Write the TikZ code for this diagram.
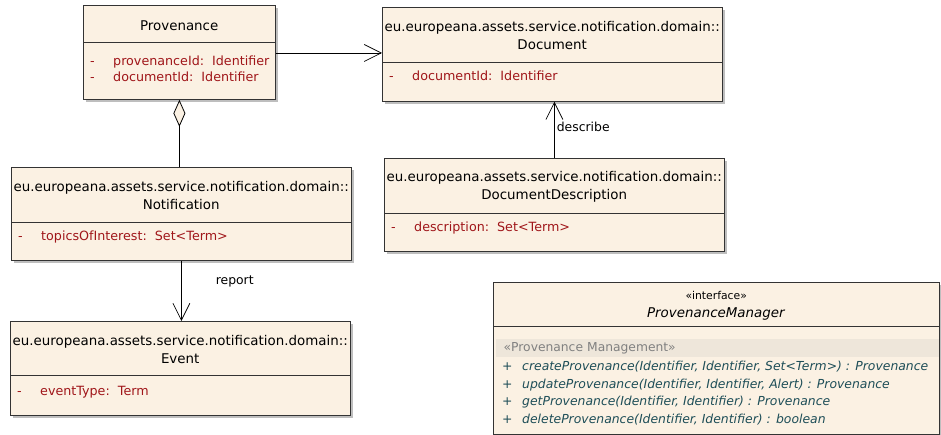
\documentclass[tikz,border=0pt]{standalone}
\usepackage{fontspec}
\setmainfont{DejaVu Sans}
\usepackage{tikz}
\usetikzlibrary{calc, shadows, arrows.meta}
\definecolor{umlfill}{HTML}{FBF1E3}
\definecolor{umlshadow}{HTML}{BEBEBE}
\definecolor{attrred}{HTML}{A0161A}
\definecolor{opteal}{HTML}{1E4E58}
\definecolor{bandfill}{HTML}{EEE6DA}
\newcommand{\attrline}[1]{\makebox[23pt][l]{-}#1}
\newcommand{\opline}[1]{\makebox[20pt][l]{\upshape +}#1}

\begin{document}
\begin{tikzpicture}[
          x=1pt, y=-1pt,
          cls/.style={draw=black!80, fill=umlfill, line width=0.8pt,
                      inner sep=0pt, anchor=north west,
                      drop shadow={shadow xshift=3pt, shadow yshift=-3pt,
                                   fill=umlshadow, opacity=1}},
          hdr/.style={inner sep=0pt, anchor=north west, align=center,
                      font=\fontsize{13.4}{18}\selectfont},
          div/.style={draw=black!80, line width=0.8pt},
          attr/.style={anchor=north west, inner sep=0pt, align=left,
                       text=attrred, font=\fontsize{12.7}{16}\selectfont},
          op/.style={anchor=north west, inner sep=0pt, align=left,
                     text=opteal, font=\fontsize{12.4}{17.5}\selectfont\itshape},
          assoc/.style={-{Straight Barb[length=17pt, width=17pt, line width=0.7pt]},
                        line width=0.8pt},
          aggr/.style={{Diamond[open, length=27pt, width=12pt, fill=umlfill]}-,
                       line width=0.8pt},
          lbl/.style={font=\fontsize{12.4}{14}\selectfont, inner sep=2pt}
        ]
          \useasboundingbox (0,0) rectangle (941,435);

          \node[cls, minimum width=192pt, minimum height=94pt] (prov) at (83,5) {};
          \node[hdr, minimum width=192pt, minimum height=37pt] (provH) at ([yshift=-2pt]prov.north west) {Provenance};
          \draw[div] (prov.north west |- 0,42) -- (prov.north east |- 0,42);
          \node[attr] (provA) at ([shift={(7,51)}]prov.north west)
            {\attrline{provenanceId:\ \ Identifier}\\ \attrline{documentId:\ \ Identifier}};

          \node[cls, minimum width=340pt, minimum height=94pt] (doc) at (382,7) {};
          \node[hdr, minimum width=340pt, minimum height=55pt] (docH) at ([yshift=-1pt]doc.north west)
            {eu.europeana.assets.service.notification.domain::\\Document};
          \draw[div] (doc.north west |- 0,62) -- (doc.north east |- 0,62);
          \node[attr] (docA) at ([shift={(7,64)}]doc.north west)
            {\attrline{documentId:\ \ Identifier}};

          \node[cls, minimum width=340pt, minimum height=93pt] (dd) at (384,158) {};
          \node[hdr, minimum width=340pt, minimum height=55pt] (ddH) at ([yshift=-1pt]dd.north west)
            {eu.europeana.assets.service.notification.domain::\\DocumentDescription};
          \draw[div] (dd.north west |- 0,213) -- (dd.north east |- 0,213);
          \node[attr] (ddA) at ([shift={(7,64)}]dd.north west)
            {\attrline{description:\ \ Set<Term>}};

          \node[cls, minimum width=340pt, minimum height=93pt] (notif) at (11,167) {};
          \node[hdr, minimum width=340pt, minimum height=55pt] (notifH) at ([yshift=-1pt]notif.north west)
            {eu.europeana.assets.service.notification.domain::\\Notification};
          \draw[div] (notif.north west |- 0,222) -- (notif.north east |- 0,222);
          \node[attr] (notifA) at ([shift={(7,64)}]notif.north west)
            {\attrline{topicsOfInterest:\ \ Set<Term>}};

          \node[cls, minimum width=340pt, minimum height=94pt] (ev) at (10,321) {};
          \node[hdr, minimum width=340pt, minimum height=54pt] (evH) at ([yshift=-1pt]ev.north west)
            {eu.europeana.assets.service.notification.domain::\\Event};
          \draw[div] (ev.north west |- 0,375) -- (ev.north east |- 0,375);
          \node[attr] (evA) at ([shift={(7,65)}]ev.north west)
            {\attrline{eventType:\ \ Term}};

          \node[cls, minimum width=446pt, minimum height=152pt] (pm) at (493,282) {};
          \node[hdr, minimum width=446pt, minimum height=44pt] (pmH) at ([yshift=-2pt]pm.north west)
            {{\fontsize{10.8}{18}\selectfont «interface»}\\\textit{ProvenanceManager}};
          \draw[div] (pm.north west |- 0,326) -- (pm.north east |- 0,326);
          \node[anchor=north west, inner sep=0pt, fill=bandfill, minimum width=443pt,
                minimum height=18pt, text width=436pt, align=left, text=black!50,
                font=\fontsize{12.3}{14}\selectfont] (pmBand) at ([shift={(3,57)}]pm.north west)
            {\hspace*{4pt}«Provenance Management»};
          \node[op] (pmOps) at ([shift={(9,79)}]pm.north west)
            {\opline{createProvenance(Identifier, Identifier, Set<Term>) : Provenance}\\
             \opline{updateProvenance(Identifier, Identifier, Alert) : Provenance}\\
             \opline{getProvenance(Identifier, Identifier) : Provenance}\\
             \opline{deleteProvenance(Identifier, Identifier) : boolean}};

          \draw[assoc] ([yshift=-48pt]prov.north east) -- ([yshift=-48pt]prov.north east -| doc.west);
          \draw[assoc] (dd.north) -- (dd.north |- doc.south)
            node[lbl, right, pos=0.55] (lblDescribe) {describe};
          \draw[aggr] (prov.south) -- (prov.south |- notif.north);
          \draw[assoc] (notif.south) -- (notif.south |- ev.north)
            node[lbl, right=32pt, pos=0.35] (lblReport) {report};
        \end{tikzpicture}
\end{document}
